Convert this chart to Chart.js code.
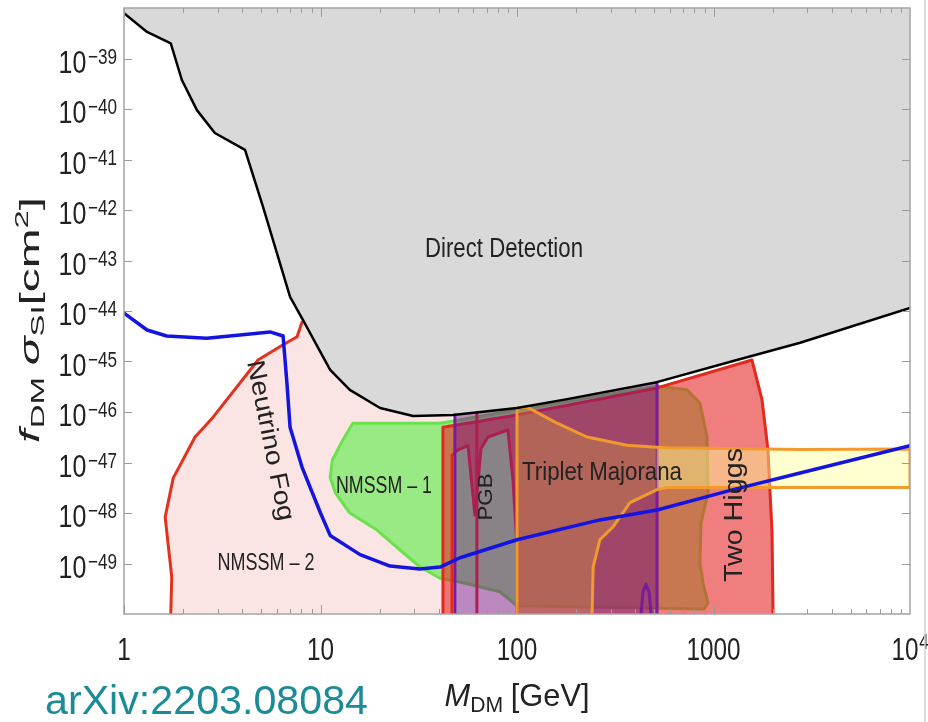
<!DOCTYPE html>
<html>
<head>
<meta charset="utf-8">
<script src="https://cdn.jsdelivr.net/npm/chart.js@4.4.1/dist/chart.umd.min.js"></script>
<style>
html, body { margin: 0; padding: 0; background: #fff; }
#wrap { width: 928px; height: 722px; position: relative; }
</style>
</head>
<body>
<div id="wrap"><canvas id="c"></canvas></div>
<script>
// Axes
const xTicks = [1, 10, 100, 1000, 10000];
const yTicks = [1e-39, 1e-40, 1e-41, 1e-42, 1e-43, 1e-44, 1e-45, 1e-46, 1e-47, 1e-48, 1e-49];
const yFloor = 1e-50;
const yCeil = 1e-38;

// Direct detection limit (GeV, cm^2)
const ddMass  = [1, 1.31, 1.73, 1.97, 2.35, 2.9, 4.13, 5.1, 7.0, 8.15, 11.2, 14.1, 20.1, 29.6, 47.2, 100, 180, 515, 1260, 2760, 10000];
const ddSigma = [7.9e-39, 3.35e-39, 2.0e-39, 3.75e-40, 9.5e-41, 3.35e-41, 1.55e-41, 1.15e-42, 1.9e-44, 6.6e-45, 6.8e-46, 2.75e-46, 1.2e-46, 8.3e-47, 8.7e-47, 1.2e-46, 1.8e-46, 3.9e-46, 1.02e-45, 2.35e-45, 1.15e-44];

// Neutrino fog (blue)
const fogMass  = [1, 1.31, 1.65, 2.64, 3.89, 5.53, 6.45, 6.75, 7.0, 8.05, 10, 11.2, 15.9, 22.6, 32, 40.6, 51.3, 100, 264, 516, 1260, 2760, 10000];
const fogSigma = [9.1e-45, 4.2e-45, 3.2e-45, 2.9e-45, 3.35e-45, 3.85e-45, 3.2e-45, 3.7e-46, 5.0e-47, 8.1e-48, 1.0e-48, 3.6e-49, 1.5e-49, 8.9e-50, 7.8e-50, 8.5e-50, 1.3e-49, 2.95e-49, 7.3e-49, 1.15e-48, 2.9e-48, 6.2e-48, 2.15e-47];

// NMSSM-2 (pink, red edge = first 10 points)
const n2Mass  = [1.73, 1.75, 1.62, 1.78, 2.30, 2.84, 4.81, 6.45, 7.6, 8.05, 11.2, 14.1, 20.1, 29.6, 46.7, 46.7];
const n2Sigma = [1e-50, 5.4e-50, 8.3e-49, 4.9e-48, 3.2e-47, 7.9e-47, 1.07e-45, 2.15e-45, 3.1e-45, 6.0e-45, 6.8e-46, 2.75e-46, 1.2e-46, 8.3e-47, 8.6e-47, 1e-50];

// NMSSM-1 (green)
const n1Mass  = [14.6, 40.6, 100, 264, 515, 733, 853, 927, 938, 863, 853, 885, 938, 895, 100, 81.9, 51.3, 40.6, 32.1, 25.4, 19.4, 14.1, 11.9, 11.2, 11.5, 13.0];
const n1Sigma = [6.0e-47, 6.0e-47, 1.1e-46, 2.1e-46, 3.25e-46, 2.75e-46, 1.5e-46, 3.25e-47, 2.5e-48, 6.3e-49, 1.02e-49, 4.1e-50, 1.65e-50, 1.26e-50, 1.45e-50, 2.75e-50, 4.3e-50, 5.1e-50, 8.5e-50, 1.85e-49, 4.6e-49, 1.0e-48, 2.5e-48, 5.1e-48, 1.12e-47, 2.8e-47];

// Two Higgs (salmon, with the PGB notch cut out)
const thMass  = [42.0, 42.0, 100, 516, 1570, 1766, 1893, 1986, 2009, 100, 100, 95.4, 89.9, 71.2, 65.6, 61.1, 56.3, 50.1, 46.7, 46.7];
const thSigma = [1e-50, 5.0e-47, 8.7e-47, 3.0e-46, 1.07e-45, 1.74e-46, 1.78e-47, 4.0e-49, 1e-50, 1e-50, 2.35e-49, 4.5e-48, 4.4e-47, 3.2e-47, 1.9e-47, 9.1e-49, 2.15e-47, 1.78e-47, 1.4e-47, 1e-50];

// Purple band and Higgs resonance line
const purpleMass  = [48.3, 48.3, 100, 180, 516, 516];
const purpleSigma = [1e-50, 8.7e-47, 1.2e-46, 1.8e-46, 3.9e-46, 1e-50];
const higgsMass  = [62.5, 62.5];
const higgsSigma = [1e-50, 9.5e-47];
const loopMass  = [428, 438, 453, 470, 481];
const loopSigma = [1e-50, 2.75e-50, 3.9e-50, 2.75e-50, 1e-50];

// Triplet Majorana (orange outline)
const tripMass  = [100, 100, 112, 160, 227, 363, 516, 579, 2760, 10000, 10000, 2760, 579, 516, 376, 308, 264, 244, 241];
const tripSigma = [1e-50, 1.2e-46, 1.26e-46, 6.0e-47, 3.2e-47, 2.2e-47, 2.0e-47, 1.95e-47, 1.8e-47, 1.85e-47, 3.2e-48, 3.2e-48, 3.2e-48, 2.9e-48, 1.6e-48, 5.3e-49, 2.95e-49, 8.5e-50, 1e-50];

const FONT = '"Liberation Sans", Arial, Helvetica, sans-serif';

function pts(xs, ys) {
    return xs.map((x, i) => ({ x: x, y: ys[i] }));
}
function closed(list) {
    return list.concat([list[0]]);
}

function area(data, color) {
    return {
        data: data, showLine: true, fill: 'shape',
        backgroundColor: color, borderColor: 'rgba(0,0,0,0)', borderWidth: 0,
        pointRadius: 0, pointHoverRadius: 0
    };
}
function outline(data, color, width, keep) {
    const ds = {
        data: data, showLine: true, fill: false,
        borderColor: color, borderWidth: width, borderJoinStyle: 'round', borderCapStyle: 'round',
        pointRadius: 0, pointHoverRadius: 0
    };
    if (keep) {
        ds.segment = {
            borderColor: c => keep(data[c.p0DataIndex], data[c.p1DataIndex]) ? color : 'rgba(0,0,0,0)'
        };
    }
    return ds;
}
const notFloor = (a, b) => !(a.y <= yFloor && b.y <= yFloor);
const verticalOnly = (a, b) => a.x === b.x;

const ddPts = pts(ddMass, ddSigma);
const n2Pts = pts(n2Mass, n2Sigma);
const n1Pts = pts(n1Mass, n1Sigma);
const thPts = pts(thMass, thSigma);
const purplePts = pts(purpleMass, purpleSigma);
const tripPts = pts(tripMass, tripSigma);

// left part of the triplet fill (inside the purple band) and the right band
const tripLeft = tripPts.slice(0, 7).concat(tripPts.slice(13));
const tripRight = tripPts.slice(6, 14);

// listed bottom layer first
const layers = [
    Object.assign(area(ddPts, '#d9d9d9'), { fill: 'end' }),
    area(n2Pts, '#fbe4e4'),
    outline(n2Pts.slice(0, 10), '#e2321f', 3),
    area(n1Pts, 'rgba(120,235,100,0.75)'),
    outline(closed(n1Pts), '#6ae24c', 3),
    area(thPts, 'rgba(230,40,40,0.6)'),
    outline(closed(thPts), '#e02a1e', 3, notFloor),
    outline(pts(higgsMass, higgsSigma), '#e02a1e', 3),
    area(purplePts, 'rgba(120,20,130,0.5)'),
    outline(closed(purplePts), '#7a1a9c', 3, verticalOnly),
    area(tripLeft, 'rgba(230,190,40,0.25)'),
    area(tripRight, 'rgba(255,255,150,0.45)'),
    outline(tripPts, '#f39a2e', 3),
    outline(pts(loopMass, loopSigma), '#7a1a9c', 3),
    outline(pts(fogMass, fogSigma), '#1414e0', 3.5),
    outline(ddPts, '#000000', 2.5)
];
layers.forEach((ds, i) => { ds.order = layers.length - i; });

// ---------- text helpers ----------
function runFont(r) {
    return (r.italic ? 'italic ' : '') + r.size + 'px ' + FONT;
}
function runsWidth(ctx, runs) {
    let w = 0;
    runs.forEach(r => {
        ctx.font = runFont(r);
        w += ctx.measureText(r.t).width + (r.gap || 0);
    });
    return w;
}
function drawLabel(ctx, runs, x, y, opts) {
    const align = opts.align || 'center';
    const natural = runsWidth(ctx, runs);
    const sx = opts.width ? opts.width / natural : (opts.squeeze || 1);
    ctx.save();
    ctx.translate(x, y);
    ctx.rotate(opts.angle || 0);
    ctx.scale(sx, opts.sy || 1);
    ctx.fillStyle = opts.color || '#222';
    ctx.textAlign = 'left';
    ctx.textBaseline = 'alphabetic';
    let cx = align === 'center' ? -natural / 2 : (align === 'right' ? -natural : 0);
    runs.forEach(r => {
        ctx.font = runFont(r);
        ctx.fillText(r.t, cx, r.dy || 0);
        cx += ctx.measureText(r.t).width + (r.gap || 0);
    });
    ctx.restore();
}
function seg(ctx, x1, y1, x2, y2) {
    ctx.beginPath();
    ctx.moveTo(x1, y1);
    ctx.lineTo(x2, y2);
    ctx.stroke();
}

const decor = {
    id: 'decor',
    afterDatasetsDraw(chart) {
        const { ctx, chartArea: a, scales: { x, y } } = chart;
        ctx.save();

        // frame
        ctx.strokeStyle = '#a4a4a4';
        ctx.lineWidth = 1.5;
        ctx.strokeRect(a.left, a.top, a.right - a.left, a.bottom - a.top);

        // tick marks (inward)
        ctx.strokeStyle = '#9a9a9a';
        ctx.lineWidth = 1;
        for (let d = 0; d < xTicks.length - 1; d++) {
            for (let k = 1; k < 10; k++) {
                const px = Math.round(x.getPixelForValue(k * xTicks[d])) + 0.5;
                const len = k === 1 ? 9 : 5;
                seg(ctx, px, a.bottom, px, a.bottom - len);
                seg(ctx, px, a.top, px, a.top + len);
            }
        }
        yTicks.forEach(v => {
            const py = Math.round(y.getPixelForValue(v)) + 0.5;
            seg(ctx, a.left, py, a.left + 8, py);
            seg(ctx, a.right, py, a.right - 8, py);
        });

        // y tick labels
        yTicks.forEach(v => {
            const py = y.getPixelForValue(v);
            const e = Math.round(Math.log10(v));
            drawLabel(ctx, [
                { t: '10', size: 32, gap: 2 },
                { t: '\u2212' + Math.abs(e), size: 22, dy: -9 }
            ], 117, py + 14, { align: 'right', squeeze: 0.78 });
        });

        // x tick labels
        xTicks.forEach(v => {
            const px = x.getPixelForValue(v);
            const e = Math.round(Math.log10(v));
            const runs = e < 4
                ? [{ t: String(v), size: 32 }]
                : [{ t: '10', size: 32, gap: 1 }, { t: String(e), size: 22, dy: -11 }];
            drawLabel(ctx, runs, px, 660, { squeeze: 0.76 });
        });

        // axis titles
        drawLabel(ctx, [
            { t: 'M', size: 32, italic: true },
            { t: 'DM', size: 22, dy: 6, gap: 8 },
            { t: '[GeV]', size: 32 }
        ], 517, 706, { width: 145 });
        drawLabel(ctx, [
            { t: 'f', size: 32, italic: true, gap: 1 },
            { t: 'DM', size: 22, dy: 6, gap: 8 },
            { t: '\u03c3', size: 32, italic: true },
            { t: 'SI', size: 22, dy: 6 },
            { t: '[cm', size: 32 },
            { t: '2', size: 22, dy: -13 },
            { t: ']', size: 32 }
        ], 39, 320, { width: 246, angle: -Math.PI / 2, sy: 0.86 });

        // region labels
        drawLabel(ctx, [{ t: 'Direct Detection', size: 27 }], 504, 257, { width: 158 });
        drawLabel(ctx, [{ t: 'Triplet Majorana', size: 26 }], 602, 480, { width: 160 });
        drawLabel(ctx, [{ t: 'NMSSM \u2013 1', size: 23 }], 384, 493, { width: 96 });
        drawLabel(ctx, [{ t: 'NMSSM \u2013 2', size: 23 }], 266, 570, { width: 97 });
        drawLabel(ctx, [{ t: 'PGB', size: 20 }], 492, 497, { width: 47, angle: -Math.PI / 2 });
        drawLabel(ctx, [{ t: 'Two Higgs', size: 25 }], 742, 515, { width: 134, angle: -Math.PI / 2 });
        drawLabel(ctx, [{ t: 'Neutrino Fog', size: 25 }], 263, 442, { width: 163, angle: 1.373 });

        // source tag
        drawLabel(ctx, [{ t: 'arXiv:2203.08084', size: 41 }], 45, 714, { width: 323, align: 'left', color: '#1b8b98' });

        // page edge line at right
        ctx.strokeStyle = '#d2d2d2';
        ctx.lineWidth = 1.5;
        seg(ctx, 925, 0, 925, 722);

        ctx.restore();
    }
};

new Chart(document.getElementById('c'), {
    type: 'scatter',
    data: { datasets: layers },
    options: {
        responsive: true,
        maintainAspectRatio: false,
        animation: false,
        events: [],
        layout: { padding: { left: 0, right: 18, top: 8, bottom: 0 } },
        plugins: {
            legend: { display: false },
            tooltip: { enabled: false }
        },
        elements: { line: { tension: 0 } },
        scales: {
            x: {
                type: 'logarithmic', min: xTicks[0], max: xTicks[xTicks.length - 1],
                grid: { display: false }, border: { display: false },
                ticks: { display: false },
                afterFit: s => { s.height = 108; }
            },
            y: {
                type: 'logarithmic', min: yFloor, max: yCeil,
                grid: { display: false }, border: { display: false },
                ticks: { display: false },
                afterFit: s => { s.width = 124; }
            }
        }
    },
    plugins: [decor]
});
</script>
</body>
</html>
